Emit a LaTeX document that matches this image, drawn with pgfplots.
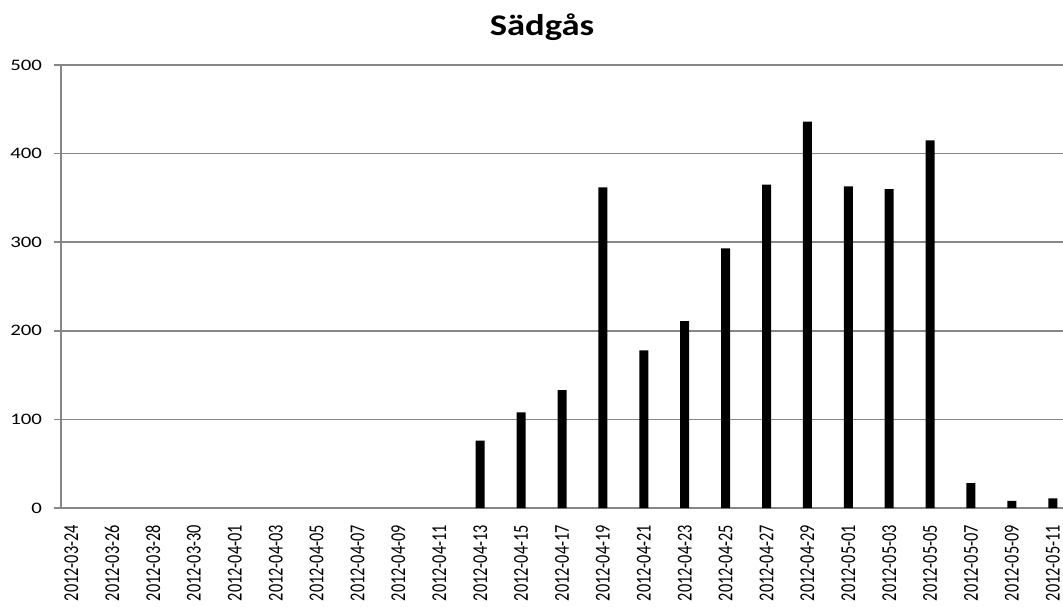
\documentclass[border=0pt]{standalone}
\usepackage{fontspec}
\setmainfont{Carlito}
\newfontfamily\ystr[FakeStretch=1.3]{Carlito}
\newfontfamily\tstr[FakeStretch=1.22]{Carlito}
\newfontfamily\xcomp[FakeStretch=0.77]{Carlito}
\usepackage{pgfplots}
\pgfplotsset{compat=1.18}
\definecolor{axgray}{RGB}{134,134,134}
\begin{document}
\begin{tikzpicture}
\begin{axis}[
  at={(0,0)}, anchor=south west,
  scale only axis,
  width=501pt, height=221.5pt,
  xmin=-0.5, xmax=48.5,
  ymin=0, ymax=500,
  axis lines*=left,
  axis line style={axgray, line width=0.9pt},
  ytick={0,100,...,500},
  ymajorgrids,
  grid style={axgray, line width=0.8pt},
  tick align=outside,
  major tick length=3.5pt,
  minor tick length=3pt,
  tick style={axgray, line width=0.8pt},
  xtick={0,2,...,48},
  x tick style={draw=none},
  minor xtick={-0.5,1.5,...,47.5},
  minor x tick style={axgray, line width=0.8pt},
  xticklabels={2012-03-24,2012-03-26,2012-03-28,2012-03-30,2012-04-01,2012-04-03,2012-04-05,2012-04-07,2012-04-09,2012-04-11,2012-04-13,2012-04-15,2012-04-17,2012-04-19,2012-04-21,2012-04-23,2012-04-25,2012-04-27,2012-04-29,2012-05-01,2012-05-03,2012-05-05,2012-05-07,2012-05-09,2012-05-11},
  xticklabel style={rotate=90, anchor=east, font=\xcomp\fontsize{10.6}{12}\selectfont, xshift=-1.5pt},
  yticklabel style={font=\ystr\fontsize{8}{10}\selectfont, xshift=-2.5pt},
  /pgf/number format/assume math mode=true,
  title={Sädgås},
  title style={font=\tstr\fontsize{15}{17}\selectfont\bfseries, yshift=2.5pt, xshift=-10pt},
  clip=false,
]
\addplot[ybar, bar width=0.44, fill=black, draw=none] coordinates {
  (20,76) (22,108) (24,133) (26,362) (28,178) (30,211) (32,293) (34,365)
  (36,436) (38,363) (40,360) (42,415) (44,28) (46,8) (48,11)
};
\end{axis}
\pgfresetboundingbox
\useasboundingbox (-30.5pt,-49pt) rectangle (501pt,254pt);
\end{tikzpicture}
\end{document}
